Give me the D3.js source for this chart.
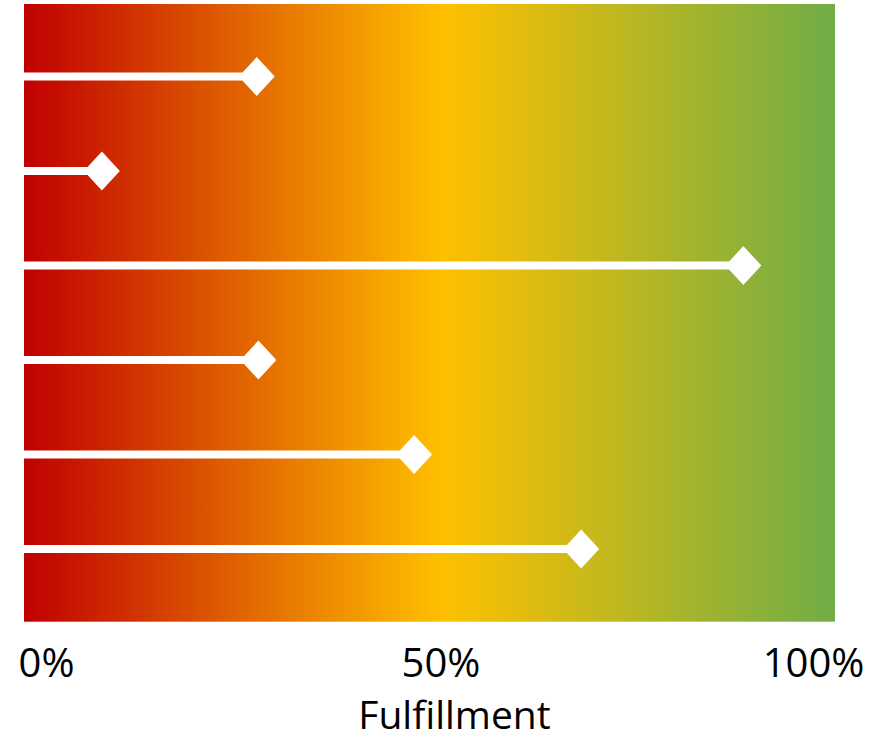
<!DOCTYPE html>
<html>
<head>
<meta charset="utf-8">
<script src="https://cdn.jsdelivr.net/npm/d3@7"></script>
<style>
  html, body { margin: 0; padding: 0; background: #fff; }
  svg { display: block; }
</style>
</head>
<body>
<svg id="chart" width="869" height="741"></svg>
<script>
// ---- data ----
const categories = ["Item 1", "Item 2", "Item 3", "Item 4", "Item 5", "Item 6"];
const fulfillment = [0.287, 0.096, 0.887, 0.289, 0.481, 0.687];
const tickValues = [0, 0.5, 1];
const tickLabels = ["0%", "50%", "100%"];
const axisTitle = "Fulfillment";
const gradientStops = [
  { offset: 0, color: "#C00000" },
  { offset: 0.515, color: "#FFC000" },
  { offset: 1, color: "#70AD47" }
];

// ---- layout ----
const W = 869, H = 741;
const plot = { left: 24, right: 835, top: 4, bottom: 621.7 };

const svg = d3.select("#chart");

const x = d3.scaleLinear().domain([0, 1]).range([plot.left, plot.right]);
const y = d3.scalePoint().domain(categories).range([plot.top, plot.bottom]).padding(0.768);

// gradient background
const defs = svg.append("defs");
const grad = defs.append("linearGradient")
  .attr("id", "bg")
  .attr("gradientUnits", "userSpaceOnUse")
  .attr("x1", x(0)).attr("x2", x(1)).attr("y1", 0).attr("y2", 0);
grad.selectAll("stop").data(gradientStops).join("stop")
  .attr("offset", d => d.offset)
  .attr("stop-color", d => d.color);

svg.append("rect")
  .attr("x", x(0)).attr("y", plot.top)
  .attr("width", x(1) - x(0)).attr("height", plot.bottom - plot.top)
  .attr("fill", "url(#bg)");

const rows = categories.map((c, i) => ({ cat: c, v: fulfillment[i] }));

// stems
svg.append("g").selectAll("line").data(rows).join("line")
  .attr("x1", x(0))
  .attr("x2", d => x(d.v))
  .attr("y1", d => y(d.cat))
  .attr("y2", d => y(d.cat))
  .attr("stroke", "#fff")
  .attr("stroke-width", 8);

// diamonds
const hw = 18, hh = 19.5;
svg.append("g").selectAll("path").data(rows).join("path")
  .attr("transform", d => `translate(${x(d.v)},${y(d.cat)})`)
  .attr("d", `M0,${-hh}L${hw},0L0,${hh}L${-hw},0Z`)
  .attr("fill", "#fff");

// x axis
const labelShift = [22, 11, -22];
const axis = d3.axisBottom(x)
  .tickValues(tickValues)
  .tickFormat((d, i) => tickLabels[i])
  .tickSize(0);
const gx = svg.append("g")
  .attr("transform", `translate(0,${plot.bottom})`)
  .call(axis);
gx.select(".domain").remove();
gx.selectAll("text")
  .attr("y", 55)
  .attr("dy", 0)
  .attr("dx", (d, i) => labelShift[i])
  .attr("fill", "#000")
  .style("font-family", "'Open Sans', sans-serif")
  .style("font-size", "40px");

svg.append("text")
  .attr("x", 454.5)
  .attr("y", 729)
  .attr("text-anchor", "middle")
  .attr("fill", "#000")
  .style("font-family", "'Open Sans', sans-serif")
  .style("font-size", "39px")
  .text(axisTitle);
</script>
</body>
</html>
